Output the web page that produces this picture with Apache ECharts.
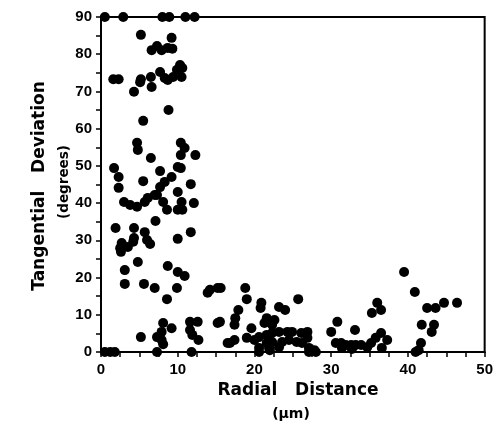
<!DOCTYPE html>
<html>
<head>
<meta charset="utf-8">
<script src="https://cdn.jsdelivr.net/npm/echarts@6/dist/echarts.min.js"></script>
<style>html,body{margin:0;padding:0;background:#fff}#c{width:496px;height:425px}</style>
</head>
<body>
<div id="c"></div>
<script>
// Radial distance (µm) and tangential deviation (degrees) for each cell
const radialDistance = [
0.5,2.9,8.0,8.9,11.0,12.2,
5.2,6.6,7.3,7.9,8.7,9.2,9.3,
1.6,2.3,5.2,5.1,4.3,6.6,6.5,7.7,8.3,8.7,9.4,9.9,10.3,10.6,10.5,
8.8,5.5,
4.7,4.8,10.4,10.9,10.4,12.3,6.5,
1.7,2.3,2.3,5.5,7.7,9.2,8.3,10.0,10.4,11.7,7.7,7.0,10.0,
3.0,3.8,4.7,5.7,6.1,7.3,8.1,8.6,10.0,10.5,10.6,12.1,
7.1,1.9,4.3,5.7,4.3,6.0,10.0,11.7,2.7,
2.5,2.6,3.5,4.2,6.4,
4.8,3.1,8.7,10.0,10.9,
3.1,5.6,7.0,9.9,8.6,
13.9,14.2,15.2,15.6,
8.1,9.2,7.9,7.3,7.9,8.1,5.2,11.6,12.6,11.6,11.9,12.7,15.2,15.5,
0.5,1.2,1.8,7.3,11.8,
18.8,19.0,25.7,
20.9,20.8,23.2,24.0,21.6,22.6,21.3,22.3,
17.9,17.5,17.4,
19.6,19.0,16.8,17.4,16.5,
20.0,20.6,21.6,22.3,23.2,24.3,24.9,26.1,26.9,26.9,21.6,22.3,23.6,24.5,25.5,26.2,20.6,21.9,23.2,27.1,27.8,22.0,20.6,27.1,28.0,
30.8,30.0,30.6,33.1,
39.5,40.9,42.5,43.6,44.7,46.4,
41.8,43.4,43.1,
41.7,41.4,41.0,
36.0,36.5,35.3,
36.5,37.3,35.8,35.2,36.6,34.7,
31.3,31.9,32.6,33.2,33.9,31.4,32.7
];
const tangentialDeviation = [
90,90,90,90,90,90,
85.2,81.1,82.2,81.1,81.7,84.4,81.5,
73.3,73.3,73.3,72.5,69.9,71.2,73.9,75.2,73.6,73.1,73.9,75.8,77.1,76.3,73.9,
65.0,62.1,
56.2,54.3,56.2,54.8,52.9,52.9,52.1,
49.4,47.0,44.1,45.9,48.6,47.0,45.7,49.7,49.4,45.1,44.3,42.2,43.0,
40.3,39.5,39.0,40.3,41.4,42.2,40.3,38.2,38.2,40.3,38.2,40.0,
35.2,33.3,33.3,32.2,30.6,30.1,30.4,32.2,29.3,
27.9,26.9,28.2,29.6,29.0,
24.2,22.0,23.1,21.5,20.4,
18.3,18.3,17.2,17.2,14.2,
15.9,16.7,17.2,17.2,
7.8,6.4,5.4,4.0,3.2,2.1,4.0,8.1,8.1,5.9,4.6,3.2,7.8,8.1,
0,0,0,0,0,
17.2,14.2,14.2,
13.2,11.8,12.1,11.3,9.1,8.6,7.8,7.3,
11.3,9.1,7.3,
6.4,3.8,2.4,3.2,2.4,
3.2,4.0,4.6,5.1,5.4,5.4,5.4,5.1,5.4,3.8,2.4,2.7,2.7,3.2,2.7,2.4,1.1,1.1,1.3,1.1,0.5,0.5,0,0,0,
8.1,5.4,2.4,5.9,
21.5,16.1,11.8,11.8,13.2,13.2,
7.3,7.3,5.4,
2.4,0.5,0,
13.2,11.3,10.5,
5.1,3.2,3.8,2.4,1.1,1.3,
2.4,1.9,1.9,1.9,1.9,1.1,0.8
];
const xTicks = [0, 10, 20, 30, 40, 50];
const yTicks = [0, 10, 20, 30, 40, 50, 60, 70, 80, 90];

const points = radialDistance.map((x, i) => [x, tangentialDeviation[i]]);
const FONT = 'Liberation Sans';
const chart = echarts.init(document.getElementById('c'));
chart.setOption({
  animation: false,
  backgroundColor: '#fff',
  grid: {left: 101, right: 10, top: 17, bottom: 73, show: true, borderColor: '#000', borderWidth: 2},
  xAxis: {
    type: 'value', min: xTicks[0], max: xTicks[xTicks.length - 1], interval: 10,
    axisLine: {show: true, lineStyle: {color: '#000', width: 2}},
    axisTick: {show: true, length: 5, lineStyle: {color: '#000', width: 1.5}},
    minorTick: {show: true, splitNumber: 4, length: 5, lineStyle: {color: '#000', width: 1.5}},
    splitLine: {show: false},
    axisLabel: {color: '#000', fontFamily: FONT, fontWeight: 'bold', fontSize: 15, margin: 10}
  },
  yAxis: {
    type: 'value', min: yTicks[0], max: yTicks[yTicks.length - 1], interval: 10,
    axisLine: {show: true, lineStyle: {color: '#000', width: 2}},
    axisTick: {show: true, length: 5, lineStyle: {color: '#000', width: 1.5}},
    minorTick: {show: true, splitNumber: 2, length: 5, lineStyle: {color: '#000', width: 1.5}},
    splitLine: {show: false},
    axisLabel: {color: '#000', fontFamily: FONT, fontWeight: 'bold', fontSize: 15, margin: 9}
  },
  series: [{
    type: 'scatter', data: points, symbol: 'circle', symbolSize: 10, clip: false,
    itemStyle: {color: '#000', opacity: 1}
  }],
  graphic: [
    {type: 'text', x: 40, y: 186, rotation: Math.PI / 2,
     style: {text: 'Tangential   Deviation', font: 'bold 17px "DejaVu Sans"', fill: '#000', align: 'center', verticalAlign: 'middle'}},
    {type: 'text', x: 64, y: 182, rotation: Math.PI / 2,
     style: {text: '(degrees)', font: 'bold 13.5px "DejaVu Sans"', fill: '#000', align: 'center', verticalAlign: 'middle'}},
    {type: 'text', x: 298, y: 391,
     style: {text: 'Radial   Distance', font: 'bold 17px "DejaVu Sans"', fill: '#000', align: 'center', verticalAlign: 'middle'}},
    {type: 'text', x: 291, y: 414,
     style: {text: '(μm)', font: 'bold 14px "DejaVu Sans"', fill: '#000', align: 'center', verticalAlign: 'middle'}}
  ]
});
</script>
</body>
</html>
